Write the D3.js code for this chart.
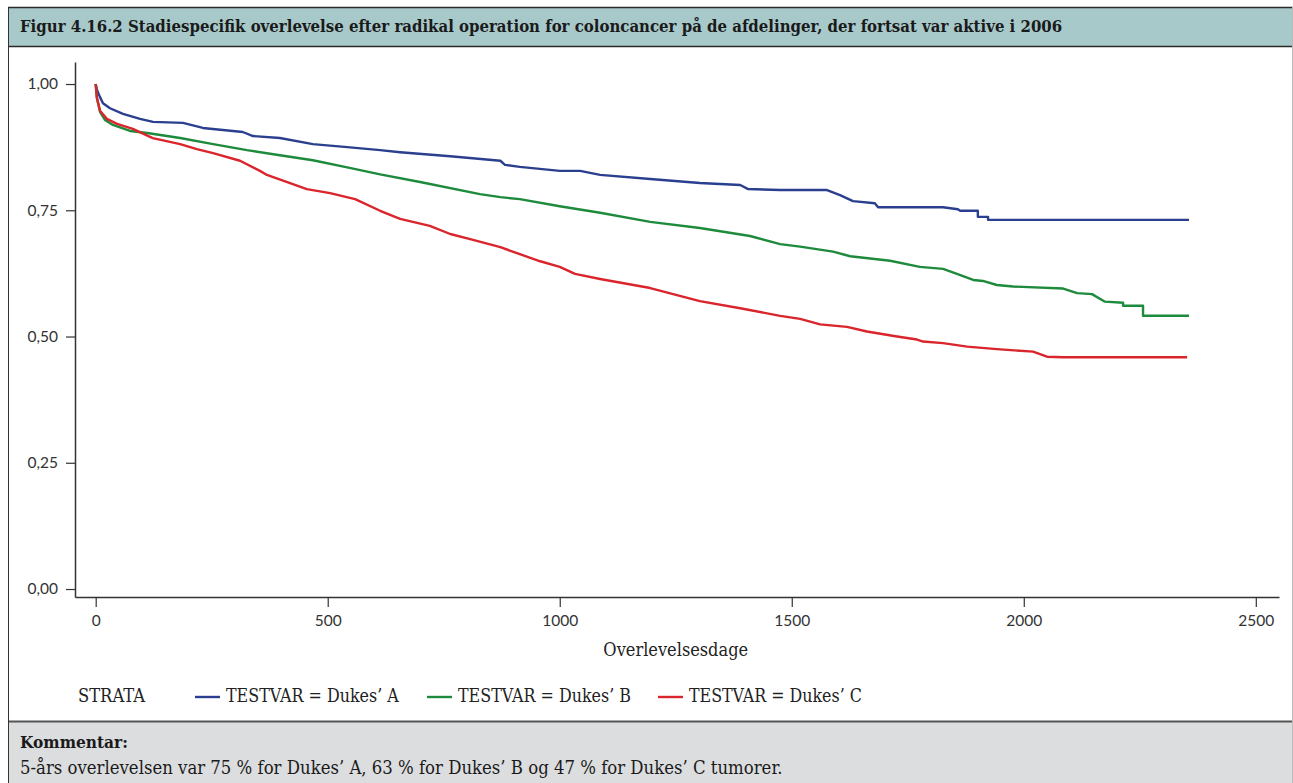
<!DOCTYPE html>
<html><head><meta charset="utf-8">
<script src="https://cdn.jsdelivr.net/npm/d3@7"></script>
<style>
html,body{margin:0;padding:0;background:#fff;}
svg{display:block;}
</style></head>
<body>
<svg id="c" width="1293" height="783"></svg>
<script>
const titleText = "Figur 4.16.2 Stadiespecifik overlevelse efter radikal operation for coloncancer på de afdelinger, der fortsat var aktive i 2006";
const commentHead = "Kommentar:";
const commentText = "5-års overlevelsen var 75 % for Dukes’ A, 63 % for Dukes’ B og 47 % for Dukes’ C tumorer.";
const xLabel = "Overlevelsesdage";
const legendTitle = "STRATA";
const seriesNames = ["TESTVAR = Dukes’ A", "TESTVAR = Dukes’ B", "TESTVAR = Dukes’ C"];
const seriesColors = ["#2b3f8f", "#1e8a3c", "#d9252b"];
const xTicks = [0, 500, 1000, 1500, 2000, 2500];
const yTicks = [0, 0.25, 0.5, 0.75, 1];
const yTickLabels = ["0,00", "0,25", "0,50", "0,75", "1,00"];

const daysA = [0,2.8,9.3,15.7,30.8,58.8,95.5,123.5,188,231,317,339,397,468,542,613,656,764,872,882,914,1000,1044,1087,1195,1302,1389,1406,1475,1576,1604,1632,1679,1686,1826,1858,1863,1901,1901,1923,1923,2356];
const survA = [1.0,0.988,0.974,0.962,0.952,0.941,0.931,0.925,0.923,0.913,0.905,0.897,0.893,0.881,0.875,0.869,0.865,0.857,0.848,0.840,0.836,0.828,0.828,0.820,0.812,0.804,0.800,0.792,0.790,0.790,0.780,0.768,0.764,0.756,0.756,0.752,0.749,0.749,0.737,0.737,0.731,0.731];

const daysB = [0,2.8,9.3,20,37,74,111,182,253,326,397,468,542,613,699,828,872,914,1000,1087,1195,1302,1410,1475,1518,1589,1626,1712,1776,1826,1856,1891,1912,1942,1977,2085,2115,2147,2175,2214,2214,2257,2257,2356];
const survB = [1.0,0.972,0.945,0.929,0.919,0.907,0.903,0.893,0.881,0.869,0.859,0.849,0.835,0.821,0.806,0.782,0.776,0.772,0.758,0.745,0.727,0.715,0.699,0.683,0.678,0.668,0.659,0.650,0.638,0.634,0.624,0.612,0.610,0.602,0.599,0.595,0.586,0.584,0.569,0.567,0.561,0.561,0.541,0.541];

const daysC = [0,2.2,9.3,24,46,80,123,182,218,253,311,354,369,455,505,559,613,656,720,764,807,872,914,958,1000,1033,1087,1195,1302,1389,1475,1518,1561,1619,1662,1727,1770,1783,1826,1878,1942,2020,2050,2085,2352];
const survC = [1.0,0.974,0.947,0.931,0.921,0.911,0.893,0.881,0.871,0.863,0.848,0.828,0.820,0.792,0.784,0.772,0.749,0.733,0.719,0.703,0.693,0.677,0.663,0.649,0.638,0.624,0.614,0.596,0.570,0.556,0.541,0.535,0.524,0.519,0.510,0.500,0.494,0.490,0.487,0.480,0.475,0.470,0.460,0.459,0.459];

const seriesDays = [daysA, daysB, daysC];
const seriesSurv = [survA, survB, survC];

const svg = d3.select("#c");
const serif = "'DejaVu Serif', 'Liberation Serif', serif";
const serifCond = "'DejaVu Serif Condensed', 'DejaVu Serif', serif";
const sans = "Lato, 'Open Sans', sans-serif";

function fitText(sel, targetWidth) {
  const node = sel.node();
  const fs = parseFloat(sel.attr("font-size"));
  const w = node.getComputedTextLength();
  if (w > 0) sel.attr("font-size", (fs * targetWidth / w).toFixed(2));
}

// Frames
svg.append("rect").attr("x", 8).attr("y", 7).attr("width", 1290).attr("height", 40)
  .attr("fill", "#a8c9ca");
svg.append("line").attr("x1", 8).attr("x2", 1293).attr("y1", 7.5).attr("y2", 7.5).attr("stroke", "#2a2a2a").attr("stroke-width", 1.5);
svg.append("line").attr("x1", 8).attr("x2", 1293).attr("y1", 46.5).attr("y2", 46.5).attr("stroke", "#2a2a2a").attr("stroke-width", 1.5);
svg.append("rect").attr("x", 8).attr("y", 722).attr("width", 1290).attr("height", 61).attr("fill", "#dcdddf");
svg.append("line").attr("x1", 8).attr("x2", 1293).attr("y1", 721.5).attr("y2", 721.5).attr("stroke", "#555").attr("stroke-width", 2);
svg.append("line").attr("x1", 8.5).attr("x2", 8.5).attr("y1", 7).attr("y2", 783).attr("stroke", "#333").attr("stroke-width", 1);
svg.append("line").attr("x1", 1292.5).attr("x2", 1292.5).attr("y1", 7).attr("y2", 783).attr("stroke", "#bbb").attr("stroke-width", 1);

// Title
const t = svg.append("text").attr("x", 20).attr("y", 32).attr("font-family", serifCond)
  .attr("font-weight", "bold").attr("font-size", 15).attr("fill", "#1a1a1a").text(titleText);
fitText(t, 1043);

// Comment
const ch = svg.append("text").attr("x", 20).attr("y", 748).attr("font-family", serifCond)
  .attr("font-weight", "bold").attr("font-size", 15).attr("fill", "#1a1a1a").text(commentHead);
fitText(ch, 108);
const ct = svg.append("text").attr("x", 20).attr("y", 774).attr("font-family", serifCond)
  .attr("font-size", 15).attr("fill", "#1a1a1a").text(commentText);
fitText(ct, 763);

// Scales
const x = d3.scaleLinear().domain([-44.6, 2550]).range([75, 1279]);
const y = d3.scaleLinear().domain([-0.0158, 1.0436]).range([597, 62]);

const xAxis = svg.append("g").attr("transform", "translate(0,597)")
  .call(d3.axisBottom(x).tickValues(xTicks).tickSize(10).tickPadding(8).tickSizeOuter(0).tickFormat(d3.format("d")));
const yAxis = svg.append("g").attr("transform", "translate(75,0)")
  .call(d3.axisLeft(y).tickValues(yTicks).tickSize(9).tickPadding(8).tickSizeOuter(0)
    .tickFormat((d, i) => yTickLabels[i]));
[xAxis, yAxis].forEach(g => {
  g.select(".domain").attr("stroke", "#333").attr("stroke-width", 1.5);
  g.selectAll(".tick line").attr("stroke", "#333").attr("stroke-width", 1.2);
  g.selectAll("text").attr("font-family", sans).attr("font-size", 15.5).attr("fill", "#333");
});

// Axis label
const xl = svg.append("text").attr("x", x(1250)).attr("y", 656).attr("text-anchor", "middle")
  .attr("font-family", serifCond).attr("font-size", 15).attr("fill", "#222").text(xLabel);
fitText(xl, 145);

// Curves
const line = d3.line().x(d => x(d[0])).y(d => y(d[1]));
seriesDays.forEach((days, i) => {
  const pts = days.map((d, j) => [d, seriesSurv[i][j]]);
  svg.append("path").datum(pts).attr("d", line).attr("fill", "none")
    .attr("stroke", seriesColors[i]).attr("stroke-width", 2.4)
    .attr("stroke-linejoin", "round").attr("stroke-linecap", "butt");
});

// Legend
const lt = svg.append("text").attr("x", 78).attr("y", 702).attr("font-family", serifCond)
  .attr("font-size", 15).attr("fill", "#222").text(legendTitle);
fitText(lt, 67);
const legX = [195, 427, 658];
seriesNames.forEach((n, i) => {
  svg.append("line").attr("x1", legX[i]).attr("x2", legX[i] + 25).attr("y1", 697).attr("y2", 697)
    .attr("stroke", seriesColors[i]).attr("stroke-width", 2.4);
  const tx = svg.append("text").attr("x", legX[i] + 31).attr("y", 702).attr("font-family", serifCond)
    .attr("font-size", 15).attr("fill", "#222").text(n);
  fitText(tx, 173);
});
</script>
</body></html>
